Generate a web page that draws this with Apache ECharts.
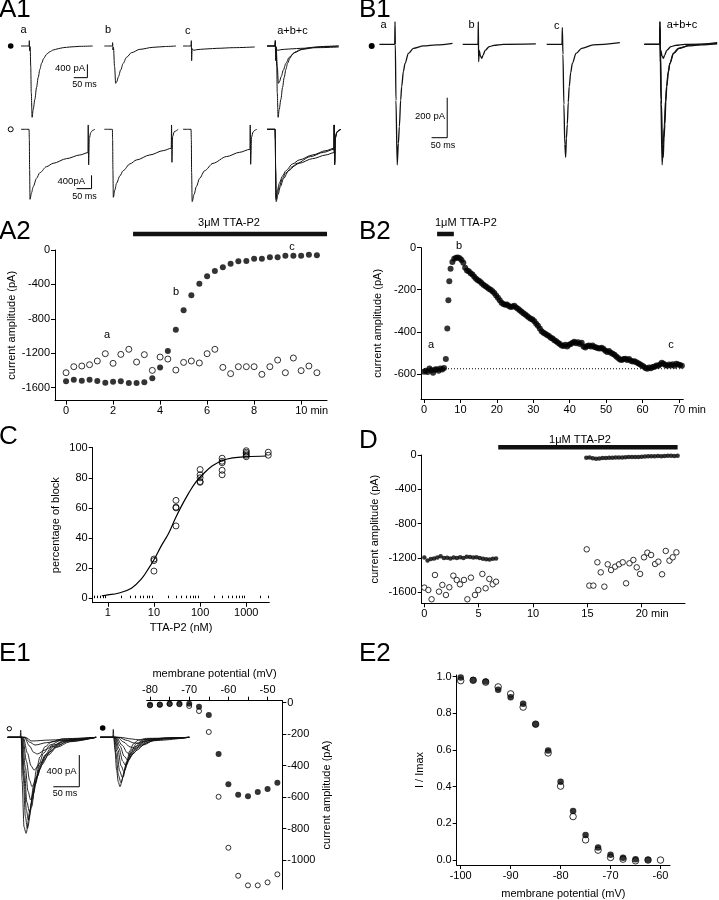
<!DOCTYPE html>
<html>
<head>
<meta charset="utf-8">
<script src="https://cdn.jsdelivr.net/npm/echarts@6/dist/echarts.min.js"></script>
<style>
  body { margin: 0; background: #fff; }
  #fig { width: 719px; height: 900px; }
</style>
</head>
<body>
<div id="fig"></div>
<script>
// ---- A1 traces (ms, pA), stimulus artifact at 30 ms ----
var a1FilledA = [[0,0],[29,0],[30,160],[31,-140],[33,-20],[35,-600],[37,-1400],[40,-2140],[44,-1900],[50,-1600],[56,-1240],[62,-940],[68,-700],[74,-520],[82,-370],[92,-250],[104,-170],[116,-120],[134,-80],[152,-50],[176,-30],[212,-10],[258,0]];
var a1FilledB = [[0,0],[29,0],[30,100],[31,-120],[33,-40],[37,-620],[41,-1120],[45,-1070],[51,-920],[59,-720],[68,-520],[80,-340],[98,-200],[128,-100],[175,-40],[220,-15],[258,0]];
var a1FilledC = [[0,0],[29,0],[30,160],[31,-440],[33,-80],[38,-130],[50,-110],[62,-100],[90,-85],[122,-70],[182,-50],[258,-30]];
var a1OpenA = [[0,0],[29,0],[30,-300],[31,-1200],[32.5,-2100],[38,-1900],[44,-1720],[56,-1470],[68,-1300],[92,-1120],[116,-1020],[164,-880],[212,-770],[241,-700],[242,130],[243.5,-1070],[246,-270],[251,-100],[258,-30],[266,0]];
var a1OpenB = [[0,0],[29,0],[30,-300],[31,-1200],[32.5,-2040],[38,-1820],[44,-1620],[56,-1400],[68,-1240],[92,-1040],[116,-920],[164,-770],[212,-640],[241,-570],[242,130],[243.5,-990],[246,-220],[252,-70],[266,0]];
var a1OpenC = [[0,0],[29,0],[30,-300],[31,-1300],[33,-2170],[40,-1950],[48,-1720],[60,-1470],[78,-1240],[108,-1020],[156,-820],[204,-690],[241,-600],[242,130],[243.5,-1050],[247,-230],[252,-80],[260,-20],[266,0]];

// ---- B1 traces (ms, pA), artifact at 50 ms ----
var b1A = [[0,0],[49,0],[50,113],[51,0],[53,-280],[57,-603],[60.7,-495],[63.9,-412],[68.1,-278],[71.3,-212],[76.7,-137],[82,-95],[93,-45],[109,-20],[141,-8],[183,-3],[234,5]];
var b1B = [[0,0],[49,0],[50,113],[51,-87],[53,-30],[57,-60],[61,-70],[65,-55],[72,-30],[85,-12],[100,-5],[130,0],[234,2]];
var b1C = [[0,0],[49,0],[50,85],[52,-50],[55,-300],[58,-500],[60.7,-565],[63,-470],[66,-400],[69,-290],[72,-212],[77,-140],[82,-95],[94,-45],[112,-20],[149,-3],[234,8]];

// ---- A2 time course ----
var a2Time = [0,0.33,0.67,1,1.33,1.67,2,2.33,2.67,3,3.33,3.67,4,4.33,4.67,5,5.33,5.67,6,6.33,6.67,7,7.33,7.67,8,8.33,8.67,9,9.33,9.67,10,10.33,10.67];
var a2Drug = [-1526,-1507,-1519,-1507,-1522,-1542,-1530,-1526,-1546,-1546,-1538,-1491,-1364,-1174,-926,-701,-527,-391,-306,-244,-201,-159,-132,-128,-101,-101,-85,-85,-66,-66,-66,-54,-62];
var a2Ctrl = [-1426,-1356,-1348,-1333,-1290,-1205,-1317,-1213,-1154,-1302,-1216,-1399,-1244,-1267,-1395,-1306,-1290,-1313,-1205,-1154,-1364,-1437,-1356,-1356,-1356,-1445,-1356,-1279,-1426,-1255,-1402,-1348,-1426];
var a2Application = [2.85, 11.1];

// ---- B2 time course [min, pA] ----
var b2Trace = [[0,-590],[0.5,-585],[1,-592],[1.5,-575],[2,-583],[2.5,-595],[3,-580],[3.5,-578],[4,-585],[4.5,-575],[5,-580],[5.5,-572],[6,-530],[6.4,-385],[6.7,-250],[6.95,-160],[7.3,-100],[7.8,-68],[8.3,-52],[8.8,-48],[9.3,-47],[9.8,-50],[10.3,-58],[10.8,-72],[11.3,-95],[11.8,-108],[12.3,-112],[12.8,-122],[13.3,-128],[13.8,-138],[14.3,-148],[14.8,-155],[15.3,-160],[15.8,-168],[16.3,-176],[16.8,-182],[17.3,-188],[17.8,-195],[18.3,-200],[18.8,-207],[19.3,-215],[19.8,-228],[20.3,-238],[20.8,-250],[21.3,-262],[21.8,-268],[22.3,-272],[22.8,-270],[23.3,-278],[23.8,-282],[24.3,-280],[24.8,-276],[25.3,-284],[25.8,-290],[26.3,-298],[26.8,-305],[27.3,-312],[27.8,-318],[28.3,-325],[28.8,-332],[29.3,-338],[29.8,-342],[30.3,-350],[30.8,-362],[31.3,-372],[31.8,-385],[32.3,-398],[32.8,-405],[33.3,-410],[33.8,-415],[34.3,-420],[34.8,-428],[35.3,-432],[35.8,-440],[36.3,-445],[36.8,-452],[37.3,-458],[37.8,-465],[38.3,-468],[38.8,-462],[39.3,-470],[39.8,-462],[40.3,-458],[40.8,-452],[41.3,-448],[41.8,-455],[42.3,-450],[42.8,-458],[43.3,-452],[43.8,-470],[44.3,-475],[44.8,-468],[45.3,-465],[45.8,-470],[46.3,-466],[46.8,-472],[47.3,-475],[47.8,-478],[48.3,-480],[48.8,-476],[49.3,-482],[49.8,-490],[50.3,-496],[50.8,-492],[51.3,-500],[51.8,-505],[52.3,-510],[52.8,-518],[53.3,-525],[53.8,-532],[54.3,-535],[54.8,-530],[55.3,-528],[55.8,-535],[56.3,-530],[56.8,-538],[57.3,-542],[57.8,-540],[58.3,-545],[58.8,-550],[59.3,-555],[59.8,-560],[60.3,-565],[60.8,-572],[61.3,-576],[61.8,-570],[62.3,-574],[62.8,-568],[63.3,-566],[63.8,-560],[64.3,-562],[64.8,-556],[65.3,-548],[65.8,-552],[66.3,-558],[66.8,-562],[67.3,-556],[67.8,-560],[68.3,-555],[68.8,-562],[69.3,-552],[69.8,-556],[70.3,-558],[70.8,-562]];
var b2Baseline = -576;
var b2Application = [3.6, 8.2];

// ---- C dose response ----
var cConc = [10,10,10,30,30,30,30,100,100,100,100,100,300,300,300,300,300,1000,1000,1000,1000,1000,3000,3000];
var cBlock = [25,26,18,65,60.5,60,48,85.5,82,80,77.5,77,93,91,90,85,82,98,97,96,95,94,97,95];
var cFitConc = [0.74,1,1.66,3.25,5.4,7.55,10,14.8,20.7,29,40.7,57,80,112,185,307,509,1000,2750];
var cFitBlock = [1.6,2.2,3.3,6.6,13,19.5,25.5,35.4,43,53,62,70,77,82,88,91.5,93.2,94,94.5];
var cMajorTicks = [1,10,100,1000];
var cMinorTicks = [0.5,0.6,0.7,0.8,0.9,2,3,4,5,6,7,8,9,20,30,40,50,60,70,80,90,200,300,400,500,600,700,800,900,2000,3000];

// ---- D time course ----
var dCtrlT = [0,0.37,0.67,0.98,1.35,1.66,1.99,2.3,2.67,2.98,3.28,3.65,3.96,4.29,4.66,4.97,5.34,5.64,5.98,6.29,6.6,14.94,15.18,15.55,15.92,16.23,16.56,16.87,17.18,17.55,17.91,18.25,18.56,18.87,19.23,19.54,19.85,20.21,20.52,20.86,21.23,21.53,21.87,22.21,22.55,22.85,23.19];
var dCtrlV = [-1545,-1573,-1681,-1398,-1592,-1514,-1631,-1541,-1406,-1456,-1507,-1456,-1681,-1429,-1631,-1573,-1386,-1553,-1444,-1507,-1476,-1099,-1522,-1522,-1250,-1367,-1534,-1274,-1340,-1301,-1274,-1250,-1495,-1262,-1223,-1309,-1386,-1192,-1138,-1165,-1270,-1243,-1390,-1118,-1231,-1192,-1134];
var dDrugT = [0,0.3,0.6,0.9,1.2,1.5,1.8,2.1,2.4,2.7,3.0,3.3,3.6,3.9,4.2,4.5,4.8,5.1,5.4,5.7,6.0,6.3,6.6,14.9,15.2,15.5,15.8,16.1,16.4,16.7,17.0,17.3,17.6,17.9,18.2,18.5,18.8,19.1,19.4,19.7,20.0,20.3,20.6,20.9,21.2,21.5,21.8,22.1,22.4,22.7,23.0,23.3];
var dDrugV = [-1195,-1230,-1212,-1205,-1195,-1180,-1200,-1198,-1205,-1195,-1200,-1190,-1200,-1185,-1188,-1195,-1192,-1200,-1208,-1215,-1218,-1210,-1205,-32,-30,-38,-45,-40,-36,-34,-32,-33,-30,-28,-28,-25,-24,-22,-22,-24,-20,-18,-16,-15,-14,-12,-14,-12,-10,-10,-12,-10];
var dApplication = [6.8, 23.3];

// ---- E1 traces (ms, pA), artifact at 25 ms ----
var e1OpenTraces = [
  [[0,0],[24,0],[25,90],[26,0],[27.6,-540],[31.4,-1130],[35.3,-1212],[43,-918],[49.4,-623],[55.8,-392],[62.2,-244],[71.8,-118],[84.6,-55],[107,-17],[170,0]],
  [[0,0],[26,0],[30,-500],[34,-1000],[37.8,-1150],[46.2,-876],[52.6,-581],[61,-328],[68.6,-202],[81.4,-97],[103.8,-34],[170,0]],
  [[0,0],[26,0],[31,-480],[36,-920],[39.7,-1044],[47.4,-791],[54.5,-539],[62.2,-349],[71.8,-223],[84.6,-118],[107,-42],[170,0]],
  [[0,0],[27,0],[32,-420],[37,-820],[41.7,-939],[49.4,-707],[57,-497],[65.4,-328],[75,-210],[87.8,-118],[110,-46],[170,0]],
  [[0,0],[28,0],[34,-380],[39,-680],[44.2,-791],[52.6,-602],[61,-413],[70,-286],[81.4,-181],[97.4,-97],[120,-34],[170,0]],
  [[0,0],[29,0],[36,-300],[42,-540],[46.8,-623],[55.8,-497],[65.4,-349],[78.2,-223],[94.2,-126],[120,-55],[170,0]],
  [[0,0],[30,0],[38,-200],[45,-360],[50.6,-413],[62.2,-328],[75,-223],[91,-126],[113.5,-55],[170,0]],
  [[0,0],[32,0],[42,-110],[50,-190],[57,-210],[71.8,-160],[87.8,-97],[113.5,-42],[170,0]],
  [[0,0],[33,0],[42,-60],[52.6,-97],[75,-67],[107,-34],[170,0]],
  [[0,0],[34,0],[46.2,-46],[81.4,-34],[126,-17],[170,0]]
];
var e1FilledTraces = [
  [[0,0],[24,0],[25,100],[26,0],[28,-150],[31.4,-413],[34.5,-560],[37.8,-623],[44.2,-497],[50.6,-307],[57,-168],[63.5,-84],[73,-34],[89,-13],[171,0]],
  [[0,0],[26,0],[30,-200],[35,-480],[39.7,-573],[47.4,-413],[53.8,-265],[60.2,-160],[69.9,-76],[86,-25],[171,0]],
  [[0,0],[27,0],[32,-180],[37,-420],[42.3,-505],[50.6,-328],[58.3,-202],[66.7,-118],[79.5,-55],[95.5,-17],[171,0]],
  [[0,0],[28,0],[34,-160],[40,-360],[45.5,-434],[53.8,-286],[62.2,-181],[71.2,-105],[86,-46],[120,-10],[171,0]],
  [[0,0],[29,0],[36,-140],[43,-300],[49.4,-362],[58.3,-244],[66.7,-160],[77.6,-88],[95.5,-34],[130,-8],[171,0]],
  [[0,0],[30,0],[38,-110],[46,-240],[53.8,-295],[63.5,-202],[75,-126],[89,-67],[108,-25],[171,0]],
  [[0,0],[31,0],[42,-100],[52,-195],[60.2,-223],[71.2,-160],[82.7,-97],[102,-42],[171,0]],
  [[0,0],[33,0],[45,-60],[57,-120],[66.7,-139],[79.5,-97],[98.7,-46],[121,-17],[171,0]],
  [[0,0],[35,0],[52,-40],[64,-70],[73,-76],[92.3,-46],[121,-17],[171,0]],
  [[0,0],[38,0],[60,-20],[76.3,-34],[108,-17],[171,0]]
];

// ---- E1 I-V ----
var e1Volt = [-80,-77.5,-75,-72.5,-70,-67.5,-65,-62.5,-60,-57.5,-55,-52.5,-50,-47.5];
var e1Filled = [-13,-13,-6,-6,-6,-25,-78,-326,-519,-585,-595,-568,-549,-509];
var e1Open = [-17,-12,-8,-10,-21,-53,-186,-598,-922,-1100,-1161,-1161,-1142,-1091];

// ---- E2 inactivation ----
var e2Volt = [-100,-97.5,-95,-92.5,-90,-87.5,-85,-82.5,-80,-77.5,-75,-72.5,-70,-67.5,-65,-62.5,-60];
var e2Filled = [0.995,0.982,0.973,0.928,0.888,0.852,0.741,0.597,0.427,0.268,0.136,0.069,0.029,0.013,0.005,0.002,null];
var e2Open = [0.978,0.98,0.97,0.944,0.906,0.834,0.741,0.584,0.403,0.237,0.110,0.054,0.014,0.005,-0.004,0.0,0.0];

var FONT = '"Liberation Sans", Arial, Helvetica, sans-serif';
var grids = [], xAxes = [], yAxes = [], series = [];

function addGrid(box, xa, ya) {
  var gi = grids.length;
  grids.push(box);
  xa.gridIndex = gi; ya.gridIndex = gi;
  xAxes.push(xa); yAxes.push(ya);
  return { gi: gi, xi: xAxes.length - 1, yi: yAxes.length - 1 };
}

function hidden(min, max) {
  return { type: 'value', min: min, max: max, show: false };
}

function plain(v) { return String(v); }

function axis(min, max, ticks, labels, fmt, extra) {
  var a = {
    type: 'value', min: min, max: max,
    axisLine: { show: true, onZero: false, lineStyle: { color: '#000', width: 1 } },
    axisTick: { show: true, length: 4, customValues: ticks, lineStyle: { color: '#000', width: 1 } },
    axisLabel: { show: true, customValues: labels, color: '#000', fontSize: 11, fontFamily: FONT, margin: 5,
                 formatter: fmt || plain, rich: { pad: { width: 21 } } },
    splitLine: { show: false },
    nameLocation: 'middle',
    nameTextStyle: { color: '#000', fontSize: 11, fontFamily: FONT }
  };
  for (var k in extra) a[k] = extra[k];
  return a;
}

function withMin(last) {
  return function (v) { return v === last ? '{pad| }' + v + ' min' : String(v); };
}

function pairs(xs, ys) {
  var out = [];
  for (var i = 0; i < xs.length; i++) if (ys[i] !== null) out.push([xs[i], ys[i]]);
  return out;
}

function trace(g, data, w) {
  series.push({ type: 'line', xAxisIndex: g.xi, yAxisIndex: g.yi, data: data, symbol: 'none',
    smooth: 0.3, smoothMonotone: 'x', silent: true,
    lineStyle: { color: '#111', width: w || 1 } });
}

function bar(g, data) {
  series.push({ type: 'line', xAxisIndex: g.xi, yAxisIndex: g.yi, data: data, symbol: 'none', silent: true,
    lineStyle: { color: '#000', width: 1 } });
}

function dots(g, data, filled, size) {
  series.push({ type: 'scatter', xAxisIndex: g.xi, yAxisIndex: g.yi, data: data, symbol: 'circle',
    symbolSize: size, silent: true,
    itemStyle: filled ? { color: '#000' } : { color: '#fff', borderColor: '#000', borderWidth: 1 } });
}

function drugBar(g, range, y) {
  series.push({ type: 'line', xAxisIndex: g.xi, yAxisIndex: g.yi, data: [[range[0], y], [range[1], y]],
    symbol: 'none', clip: false, silent: true, lineStyle: { color: '#111', width: 4.5 } });
}

// ---- A1 trace panels ----
var a1Lefts = [21, 104.3, 183, 267];
var a1Top = [], a1Bot = [];
for (var i = 0; i < 4; i++) {
  a1Top.push(addGrid({ left: a1Lefts[i], top: 26, width: 75, height: 100 }, hidden(0, 270), hidden(-2400, 600)));
  a1Bot.push(addGrid({ left: a1Lefts[i], top: 109.3, width: 75, height: 100 }, hidden(0, 270), hidden(-2400, 600)));
}
trace(a1Top[0], a1FilledA); trace(a1Top[1], a1FilledB); trace(a1Top[2], a1FilledC);
trace(a1Top[3], a1FilledA); trace(a1Top[3], a1FilledB); trace(a1Top[3], a1FilledC);
trace(a1Bot[0], a1OpenA); trace(a1Bot[1], a1OpenB); trace(a1Bot[2], a1OpenC);
trace(a1Bot[3], a1OpenA); trace(a1Bot[3], a1OpenB); trace(a1Bot[3], a1OpenC);
bar(a1Top[0], [[190, -950], [239, -950], [239, -550]]);
bar(a1Bot[0], [[200, -1780], [254, -1780], [254, -1380]]);

// ---- B1 trace panels ----
var b1Lefts = [379.4, 462.7, 546.7, 644.4];
var b1G = [];
for (var j = 0; j < 4; j++) {
  b1G.push(addGrid({ left: b1Lefts[j], top: 14.3, width: 75, height: 160 }, hidden(0, 240), hidden(-650, 150)));
}
trace(b1G[0], b1A, 1.3); trace(b1G[1], b1B, 1.3); trace(b1G[2], b1C, 1.3);
trace(b1G[3], b1A, 1.3); trace(b1G[3], b1B, 1.3); trace(b1G[3], b1C, 1.3);
bar(b1G[0], [[167, -467], [217, -467], [217, -267]]);

// ---- A2 ----
var gA2 = addGrid({ left: 55, top: 250, width: 272, height: 150.6 },
  axis(-0.47, 11.1, [0,2,4,6,8,10], [0,2,4,6,8,10], withMin(10)),
  axis(-1750, 0, [-1600,-1200,-800,-400,0], [-1600,-1200,-800,-400,0], null,
    { name: 'current amplitude (pA)', nameGap: 37 }));
dots(gA2, pairs(a2Time, a2Ctrl), false, 6);
dots(gA2, pairs(a2Time, a2Drug), true, 6);
drugBar(gA2, a2Application, 186);

// ---- B2 ----
var gB2 = addGrid({ left: 421, top: 247.7, width: 262.3, height: 151.3 },
  axis(-0.82, 71.2, [0,10,20,30,40,50,60,70], [0,10,20,30,40,50,60,70], withMin(70)),
  axis(-720, 0, [-600,-400,-200,0], [-600,-400,-200,0], null,
    { name: 'current amplitude (pA)', nameGap: 38 }));
series.push({ type: 'line', xAxisIndex: gB2.xi, yAxisIndex: gB2.yi, data: [[0, b2Baseline], [71, b2Baseline]],
  symbol: 'none', silent: true, lineStyle: { color: '#000', width: 1, type: [1, 2] } });
dots(gB2, b2Trace, true, 6);
drugBar(gB2, b2Application, 65);

// ---- C ----
var cX = axis(0.47, 3160, cMajorTicks, cMajorTicks, null, { type: 'log', logBase: 10, name: 'TTA-P2 (nM)', nameGap: 20 });
var gC = addGrid({ left: 92.7, top: 447.7, width: 176.6, height: 155 }, cX,
  axis(-3, 100, [0,20,40,60,80,100], [0,20,40,60,80,100], null, { name: 'percentage of block', nameGap: 31 }));
xAxes.push({ gridIndex: gC.gi, type: 'log', logBase: 10, min: 0.47, max: 3160,
  axisLine: { show: false }, axisLabel: { show: false }, splitLine: { show: false },
  axisTick: { show: true, length: 2.5, customValues: cMinorTicks, lineStyle: { color: '#000' } } });
series.push({ type: 'line', xAxisIndex: gC.xi, yAxisIndex: gC.yi, data: pairs(cFitConc, cFitBlock),
  symbol: 'none', smooth: 0.4, silent: true, lineStyle: { color: '#000', width: 1.2 } });
series.push({ type: 'scatter', xAxisIndex: gC.xi, yAxisIndex: gC.yi, data: pairs(cConc, cBlock), symbol: 'circle',
  symbolSize: 6, silent: true, itemStyle: { color: 'rgba(0,0,0,0)', borderColor: '#000', borderWidth: 1 } });

// ---- D ----
var gD = addGrid({ left: 421.7, top: 455, width: 263.3, height: 148.3 },
  axis(-0.24, 23.98, [0,5,10,15,20], [0,5,10,15,20], withMin(20)),
  axis(-1728, 0, [-1600,-1200,-800,-400,0], [-1600,-1200,-800,-400,0], null,
    { name: 'current amplitude (pA)', nameGap: 41 }));
dots(gD, pairs(dCtrlT, dCtrlV), false, 5.5);
dots(gD, pairs(dDrugT, dDrugV), true, 4.5);
drugBar(gD, dApplication, 90);

// ---- E1 traces ----
var gE1o = addGrid({ left: 7.7, top: 721.5, width: 91, height: 118.8 }, hidden(0, 175), hidden(-1300, 200));
var gE1f = addGrid({ left: 100.3, top: 721.5, width: 91, height: 118.8 }, hidden(0, 175), hidden(-1300, 200));
e1OpenTraces.forEach(function (t) { trace(gE1o, t, 0.9); });
e1FilledTraces.forEach(function (t) { trace(gE1f, t, 0.9); });
bar(gE1o, [[87.7, -624], [137.7, -624], [137.7, -224]]);

// ---- E1 I-V ----
var gE1 = addGrid({ left: 146.7, top: 700.7, width: 135.6, height: 188.6 },
  axis(-80.85, -46.24, [-80,-75,-70,-65,-60,-55,-50], [-80,-70,-60,-50], null,
    { position: 'top', name: 'membrane potential (mV)', nameGap: 21 }),
  axis(-1186, 12.7, [-1000,-800,-600,-400,-200,0], [-1000,-800,-600,-400,-200,0], null,
    { position: 'right', name: 'current amplitude (pA)', nameGap: 39, nameRotate: 90 }));
dots(gE1, pairs(e1Volt, e1Open), false, 5);
dots(gE1, pairs(e1Volt, e1Filled), true, 6);

// ---- E2 ----
var gE2 = addGrid({ left: 456.7, top: 675, width: 213.3, height: 191 },
  axis(-100.8, -58.1, [-100,-90,-80,-70,-60], [-100,-90,-80,-70,-60], null,
    { name: 'membrane potential (mV)', nameGap: 23 }),
  axis(-0.027, 1.009, [0,0.2,0.4,0.6,0.8,1], [0,0.2,0.4,0.6,0.8,1], function (v) { return v.toFixed(1); },
    { name: 'I / Imax', nameGap: 31 }));
dots(gE2, pairs(e2Volt, e2Open), false, 6.5);
dots(gE2, pairs(e2Volt, e2Filled), true, 6.5);

// ---- texts & markers ----
function txt(x, y, s, size, align, vAlign) {
  return { type: 'text', x: x, y: y, silent: true,
    style: { text: s, fill: '#000', font: (size || 11) + 'px ' + FONT, textAlign: align || 'left', textVerticalAlign: vAlign || 'middle' } };
}
function dot(x, y, r, filled) {
  return { type: 'circle', shape: { cx: x, cy: y, r: r }, silent: true,
    style: filled ? { fill: '#000' } : { fill: '#fff', stroke: '#000', lineWidth: 1 } };
}

var graphic = [
  txt(-1, -3, 'A1', 26, 'left', 'top'), txt(359, -3, 'B1', 26, 'left', 'top'),
  txt(-1, 219, 'A2', 26, 'left', 'top'), txt(359, 219, 'B2', 26, 'left', 'top'),
  txt(-1, 424, 'C', 26, 'left', 'top'), txt(359, 428, 'D', 26, 'left', 'top'),
  txt(-1, 641, 'E1', 26, 'left', 'top'), txt(359, 641, 'E2', 26, 'left', 'top'),
  txt(20.5, 29.5, 'a'), txt(105, 29.5, 'b'), txt(185, 30.5, 'c'), txt(292.5, 30.5, 'a+b+c', 11, 'center'),
  txt(380.5, 25, 'a'), txt(468.5, 24.5, 'b'), txt(554, 25.5, 'c'), txt(682, 25, 'a+b+c', 11, 'center'),
  txt(85, 68.3, '400 pA', 9.5, 'right'), txt(84.5, 85, '50 ms', 9, 'center'),
  txt(85, 181.7, '400pA', 9.5, 'right'), txt(84.5, 197, '50 ms', 9, 'center'),
  txt(445, 116.7, '200 pA', 9.5, 'right'), txt(443, 145.7, '50 ms', 9, 'center'),
  txt(76.7, 771.7, '400 pA', 9.5, 'right'), txt(65, 794, '50 ms', 9, 'center'),
  txt(107, 335, 'a', 11, 'center'), txt(176, 292, 'b', 11, 'center'), txt(292, 247, 'c', 11, 'center'),
  txt(431, 345, 'a', 11, 'center'), txt(459, 246, 'b', 11, 'center'), txt(671, 345, 'c', 11, 'center'),
  txt(229, 223, '3μM TTA-P2', 11, 'center'), txt(435, 223, '1μM TTA-P2', 11, 'left'),
  txt(580, 440, '1μM TTA-P2', 11, 'center'),
  dot(10.7, 46, 2.8, true), dot(10.7, 129.3, 2.5, false), dot(371.7, 46, 3, true),
  dot(9.3, 728.7, 2.2, false), dot(102.7, 728, 2.8, true)
];

var chart = echarts.init(document.getElementById('fig'), null, { renderer: 'canvas' });
chart.setOption({
  animation: false,
  backgroundColor: '#fff',
  grid: grids,
  xAxis: xAxes,
  yAxis: yAxes,
  series: series,
  graphic: graphic
});
</script>
</body>
</html>
